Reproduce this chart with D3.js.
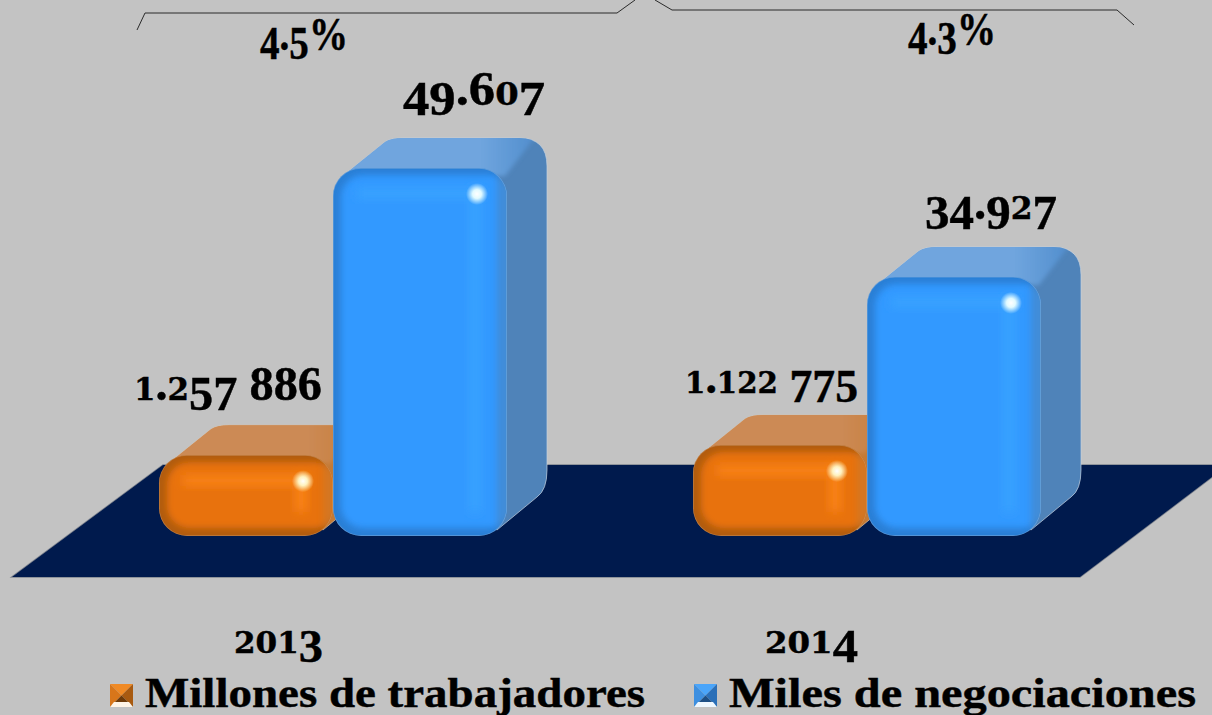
<!DOCTYPE html>
<html><head><meta charset="utf-8">
<script src="https://cdn.jsdelivr.net/npm/d3@7"></script>
<style>html,body{margin:0;padding:0;background:#c3c3c3;overflow:hidden}svg{display:block}
text{font-family:"Liberation Serif",serif;font-weight:bold;fill:#000;stroke:#000;stroke-width:.45px}</style></head><body>
<svg id="c" width="1212" height="715"></svg>
<script>
const categories = ["2013","2014"];
const seriesNames = ["Millones de trabajadores","Miles de negociaciones"];
// heights as plotted in the picture (the orange bars are not to scale with their labels)
const plottedMillones = [10900, 12260];
const plottedMiles = [49607, 34927];
const labelsMillones = ["1.257 886","1.122 775"];
const labelsMiles = ["49.607","34.927"];
const percentLabels = ["4.5%","4.3%"];

const W=1212,H=715, baseY=536, maxTopY=168, dx=40, dy=-30, r=28;
const svg=d3.select("#c");
const y=d3.scaleLinear().domain([0,49607]).range([baseY,maxTopY]);
const xGroup=d3.scaleBand().domain(categories).range([159,1041]).paddingInner(186/534);
const xSeries=d3.scaleBand().domain(seriesNames).range([0,xGroup.bandwidth()]);
const pal={
 [seriesNames[0]]:{front:"#e8720c",glow:"#f98214",edge:"#b25c0e",top:"#cc8a55",top2:"#c67c38",side:"#c47a35",rim:"#d8c0a8",spot:"#fff8c8"},
 [seriesNames[1]]:{front:"#3399ff",glow:"#39a2ff",edge:"#2a7fd6",top:"#6fa5de",top2:"#4f8ccc",side:"#4f83b9",rim:"#c4d2e0",spot:"#eaffff"}
};
const defs=svg.append("defs");
const addBlur=(id,s)=>defs.append("filter").attr("id",id).attr("x","-40%").attr("y","-40%").attr("width","180%").attr("height","180%").append("feGaussianBlur").attr("stdDeviation",s);
addBlur("b5",5);addBlur("b3",3);addBlur("b2",2.2);addBlur("b05",.5);
seriesNames.forEach((s,i)=>{
  const rg=defs.append("radialGradient").attr("id","spot"+i);
  rg.append("stop").attr("offset",0).attr("stop-color","#ffffff");
  rg.append("stop").attr("offset",.4).attr("stop-color",pal[s].spot).attr("stop-opacity",.95);
  rg.append("stop").attr("offset",1).attr("stop-color",pal[s].spot).attr("stop-opacity",0);
  const tg=defs.append("linearGradient").attr("id","top"+i).attr("x1",0).attr("x2",1).attr("y1",0).attr("y2",0);
  tg.append("stop").attr("offset",0).attr("stop-color",pal[s].top);
  tg.append("stop").attr("offset",.72).attr("stop-color",pal[s].top);
  tg.append("stop").attr("offset",1).attr("stop-color",pal[s].top2);
});

// floor
const floorPts=[[12,577],[1080,577],[1228,465],[163,465]];
svg.append("path").attr("d",d3.line()(floorPts)+"Z").attr("fill","#001a4d").attr("stroke","#7f858f").attr("stroke-width",1.6).attr("filter","url(#b05)");
svg.append("path").attr("d",d3.line()(floorPts)+"Z").attr("fill","#001a4d");

// braces
const braceL=[[137,30],[145,13],[617,13],[635,0]], braceR=[[655,0],[672,10],[1117,10],[1134,25]];
[braceL,braceR].forEach(p=>svg.append("path").attr("d",d3.line()(p)).attr("fill","none").attr("stroke","#2a2a2a").attr("stroke-width",1));

function drawBar(cat,s,val,idx){
  const x0=xGroup(cat)+xSeries(s), w=xSeries.bandwidth(), yt=y(val), h=baseY-yt, c=pal[s];
  const R=Math.min(r,h/2-6), x1=x0+w, g=svg.append("g");
  const sil=d3.path();
  sil.moveTo(x0+16,yt+3);
  sil.lineTo(x0+52,yt+dy+4);
  sil.quadraticCurveTo(x0+58,yt+dy,x0+70,yt+dy);
  sil.lineTo(x1+dx-R,yt+dy);
  sil.quadraticCurveTo(x1+dx,yt+dy,x1+dx,yt+dy+R);
  sil.lineTo(x1+dx,baseY-66);
  sil.quadraticCurveTo(x1+dx,baseY-46,x1+30,baseY-39);
  sil.lineTo(x1-10,baseY-6);
  sil.lineTo(x1-30,baseY-20);
  sil.lineTo(x0+16,baseY-20);
  sil.closePath();
  const silD=sil.toString();
  const silId=`sil${idx}${cat}`;
  defs.append("clipPath").attr("id",silId).append("path").attr("d",silD);
  g.append("path").attr("d",silD).attr("fill",c.side).attr("stroke",c.rim).attr("stroke-width",1).attr("stroke-opacity",.7);
  const sg=g.append("g").attr("clip-path",`url(#${silId})`);
  // top face
  const top=d3.path();
  top.moveTo(x0,yt+10);
  top.lineTo(x0+52,yt+dy-6);
  top.lineTo(x1+dx-8,yt+dy-6);
  top.lineTo(x1-2,yt+8);
  top.closePath();
  sg.append("path").attr("d",top.toString()).attr("fill",`url(#top${idx})`).attr("filter","url(#b2)");
  // front
  const clipId=`clip${idx}${cat}`;
  defs.append("clipPath").attr("id",clipId).append("rect").attr("x",x0).attr("y",yt).attr("width",w).attr("height",h).attr("rx",R).attr("ry",R);
  g.append("rect").attr("x",x0).attr("y",yt).attr("width",w).attr("height",h).attr("rx",R).attr("ry",R).attr("fill",c.edge);
  const cg=g.append("g").attr("clip-path",`url(#${clipId})`);
  cg.append("rect").attr("x",x0+8).attr("y",yt+7).attr("width",w-4).attr("height",h-15).attr("rx",R*.8).attr("fill",c.front).attr("filter","url(#b3)");
  cg.append("rect").attr("x",x0+24).attr("y",yt+20).attr("width",w-48).attr("height",11).attr("fill",c.glow).attr("filter","url(#b5)");
  cg.append("rect").attr("x",x1-38).attr("y",yt+20).attr("width",12).attr("height",h-44).attr("fill",c.glow).attr("filter","url(#b5)");
  cg.append("rect").attr("x",x1-10).attr("y",yt+6).attr("width",18).attr("height",h-14).attr("fill",c.side).attr("opacity",.55).attr("filter","url(#b3)");
  // soft light rim along the bottom
  cg.append("rect").attr("x",x0).attr("y",yt).attr("width",w).attr("height",h).attr("rx",R).attr("ry",R).attr("fill","none").attr("stroke",c.rim).attr("stroke-width",1.4).attr("stroke-opacity",.35);
  g.append("circle").attr("cx",x1-30).attr("cy",yt+26).attr("r",11).attr("fill",`url(#spot${idx})`);
}
categories.forEach((cat,i)=>{
  drawBar(cat,seriesNames[0],plottedMillones[i],0);
  drawBar(cat,seriesNames[1],plottedMiles[i],1);
});

// old-style figures built from real text
const small=new Set("012"), desc=new Set("34579");
function label(x0,x1,yy,str,size){
  const t=svg.append("text").attr("y",0).attr("x",0).style("white-space","pre");
  let cur=0;
  for(const ch of str){
    const isS=small.has(ch), want=desc.has(ch)?size*.2:0;
    const sp=t.append("tspan").attr("font-size",isS?size*.64:size).attr("dy",want-cur).text(ch);
    if(isS) sp.style("font-family",'"DejaVu Serif"');
    cur=want;
  }
  const b=t.node().getBBox();
  const sx=(x1-x0)/b.width;
  t.attr("transform",`translate(${x0-b.x*sx},${yy}) scale(${sx},1)`);
}
const pctX=[[260,348],[908,996]], pctY=[50,45];
const millX=[[134,322],[685,858]], millY=[400,393];
const milesX=[[403,545],[925,1057]], milesY=[105,219];
const yearX=[[234,323],[765,858]], yearY=[653,653];
percentLabels.forEach((t,i)=>label(pctX[i][0],pctX[i][1],pctY[i],t,47));
labelsMillones.forEach((t,i)=>label(millX[i][0],millX[i][1],millY[i],t,i?46:49));
labelsMiles.forEach((t,i)=>label(milesX[i][0],milesX[i][1],milesY[i],t,49));
categories.forEach((t,i)=>label(yearX[i][0],yearX[i][1],yearY[i],t,47));

// legend
const legend=[{x:110,tx:145,tw:500},{x:694,tx:729,tw:467}];
seriesNames.forEach((s,i)=>{
  const m=legend[i], sz=23, y0=684, x=m.x, c=i?["#4aa5fa","#3d8fe0","#2a6fb8","#1d4f85"]:["#f08a25","#d8761a","#a85a10","#6e3a08"];
  const tri=(pts,f)=>svg.append("path").attr("d",d3.line()(pts)+"Z").attr("fill",f);
  const C=[x+sz/2,y0+sz/2];
  tri([[x,y0],[x+sz,y0],C],c[0]);
  tri([[x,y0],[x,y0+sz],C],c[1]);
  tri([[x+sz,y0],[x+sz,y0+sz],C],c[2]);
  tri([[x,y0+sz],[x+sz,y0+sz],C],c[3]);
  svg.append("path").attr("d",d3.line()([[x,y0+sz],[x+sz,y0+sz],[x+sz-4,y0+sz-5],[x+4,y0+sz-5]])+"Z").attr("fill",i?"#eef7ff":"#fff4e6");
  svg.append("text").attr("x",m.tx).attr("y",707).attr("font-size",43)
    .attr("textLength",m.tw).attr("lengthAdjust","spacingAndGlyphs").text(s);
});
</script></body></html>
